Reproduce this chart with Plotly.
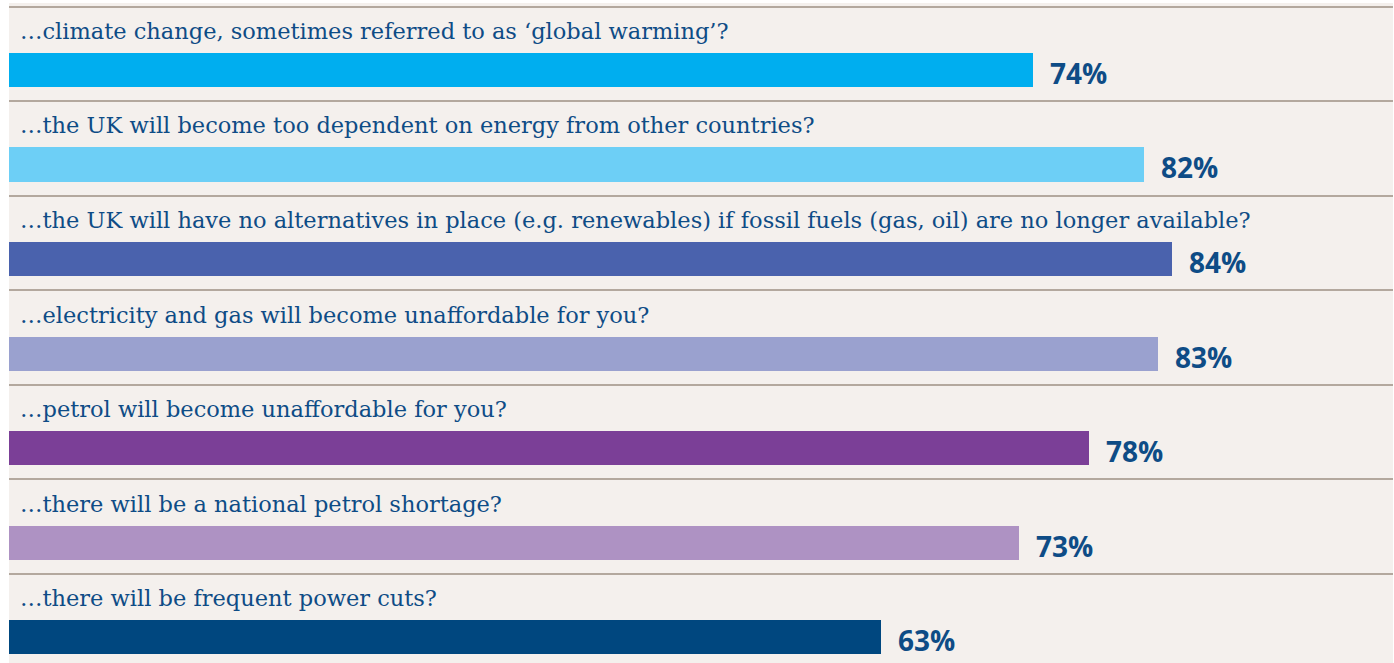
import plotly.graph_objects as go

questions = [
    "…climate change, sometimes referred to as ‘global warming’?",
    "…the UK will become too dependent on energy from other countries?",
    "…the UK will have no alternatives in place (e.g. renewables) if fossil fuels (gas, oil) are no longer available?",
    "…electricity and gas will become unaffordable for you?",
    "…petrol will become unaffordable for you?",
    "…there will be a national petrol shortage?",
    "…there will be frequent power cuts?",
]
values = [74, 82, 84, 83, 78, 73, 63]
bar_colors = ["#00aeef", "#6dcff6", "#4a62ad", "#9aa1cf", "#7b3f97", "#ae92c3", "#00477f"]
value_labels = [f"{v}%" for v in values]

TEXT_COLOR = "#0e4c86"
BG = "#f4f0ed"
GRID = "#b3a89e"

fig = go.Figure()
fig.add_trace(go.Bar(
    x=values,
    y=questions,
    orientation="h",
    marker=dict(color=bar_colors, line=dict(width=0)),
    width=0.36,
    offset=-0.01,
    hoverinfo="skip",
))

annotations = []
for q, v, lab in zip(questions, values, value_labels):
    annotations.append(dict(
        x=0, y=q, xref="x", yref="y", text=q, showarrow=False,
        xanchor="left", yanchor="middle", xshift=9, yshift=23,
        font=dict(family="DejaVu Serif", size=22.5, color=TEXT_COLOR),
    ))
    annotations.append(dict(
        x=v, y=q, xref="x", yref="y", text=f"<b>{lab}</b>", showarrow=False,
        xanchor="left", yanchor="middle", xshift=15, yshift=-19,
        font=dict(family="Open Sans", size=28, color=TEXT_COLOR),
    ))

fig.update_layout(
    width=1394, height=663,
    margin=dict(l=9, r=1, t=3, b=0),
    paper_bgcolor="white",
    plot_bgcolor=BG,
    showlegend=False,
    bargap=0,
    annotations=annotations,
    xaxis=dict(range=[0, 100], visible=False, fixedrange=True),
    yaxis=dict(
        type="category",
        range=[6.44, -0.537],
        showticklabels=False,
        ticks="",
        tickson="boundaries",
        showgrid=True,
        gridcolor=GRID,
        gridwidth=2,
        zeroline=False,
        showline=False,
        fixedrange=True,
    ),
)

fig.write_html(
    "out.html",
    config={"displayModeBar": False},
    post_script="document.body.style.margin='0px';document.body.style.overflow='hidden';",
)
